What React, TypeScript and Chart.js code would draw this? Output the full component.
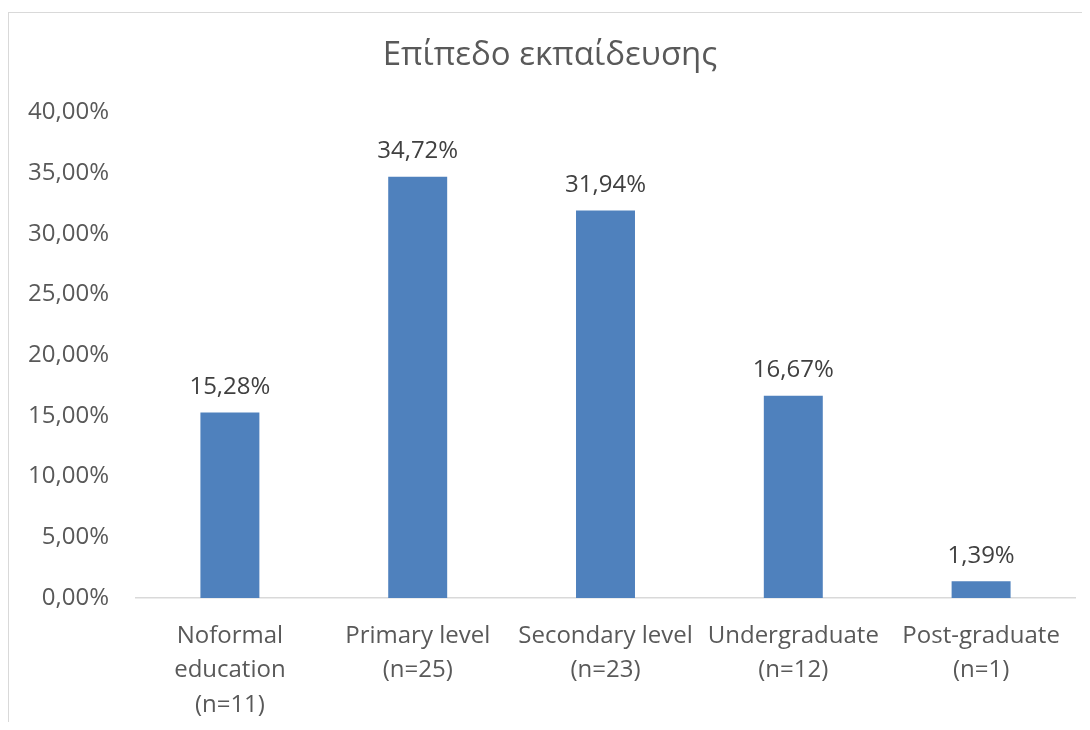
import React, { useEffect, useRef } from "react";
import { Chart, registerables } from "chart.js";

Chart.register(...registerables);

const TITLE = "Επίπεδο εκπαίδευσης";
const categories: string[][] = [
  ["Noformal", "education", "(n=11)"],
  ["Primary level", "(n=25)"],
  ["Secondary level", "(n=23)"],
  ["Undergraduate", "(n=12)"],
  ["Post-graduate", "(n=1)"],
];
const values: number[] = [15.28, 34.72, 31.94, 16.67, 1.39];
const yMin = 0;
const yMax = 40;
const yStep = 5;

const FONT = "'Open Sans', 'Noto Sans', sans-serif";
const fmt = (v: number) => v.toFixed(2).replace(".", ",") + "%";

const dataLabels = {
  id: "dataLabels",
  afterDatasetsDraw(chart: any) {
    const ctx = chart.ctx;
    const meta = chart.getDatasetMeta(0);
    ctx.save();
    ctx.font = `24px ${FONT}`;
    ctx.fillStyle = "#404040";
    ctx.textAlign = "center";
    ctx.textBaseline = "alphabetic";
    meta.data.forEach((bar: any, i: number) => {
      ctx.fillText(fmt(values[i]), bar.x, bar.y - 18.5);
    });
    ctx.restore();
  },
};

export default function App() {
  const ref = useRef<HTMLCanvasElement | null>(null);
  useEffect(() => {
    if (!ref.current) return;
    const chart = new Chart(ref.current, {
      type: "bar",
      data: {
        labels: categories,
        datasets: [
          {
            data: values,
            backgroundColor: "#4f81bd",
            borderWidth: 0,
            categoryPercentage: 1,
            barPercentage: 0.314,
          },
        ],
      },
      options: {
        responsive: false,
        animation: false,
        devicePixelRatio: 1,
        layout: { padding: { left: 16, right: 7, top: 0, bottom: 0 } },
        plugins: {
          legend: { display: false },
          tooltip: { enabled: false },
          title: {
            display: true,
            text: TITLE,
            color: "#595959",
            font: { family: FONT, size: 33, weight: "normal" as any, lineHeight: 1.2 },
            padding: { top: 23, bottom: 37 },
          },
        },
        scales: {
          x: {
            grid: { display: false, drawTicks: false },
            border: { display: true, color: "#d9d9d9", width: 1.5 },
            ticks: {
              color: "#595959",
              font: { family: FONT, size: 24, lineHeight: 1.43 },
              padding: 21,
              maxRotation: 0,
              autoSkip: false,
            },
            afterFit: (s: any) => {
              s.height = 124;
            },
          },
          y: {
            min: yMin,
            max: yMax,
            grid: { display: false, drawTicks: false },
            border: { display: false },
            ticks: {
              stepSize: yStep,
              color: "#595959",
              font: { family: FONT, size: 24 },
              padding: 27,
              callback: (v: any) => fmt(Number(v)),
            },
            afterFit: (s: any) => {
              s.width = 111;
            },
          },
        },
      },
      plugins: [dataLabels],
    });
    return () => chart.destroy();
  }, []);

  return (
    <div style={{ paddingTop: 4 }}>
      <div
        style={{
          borderTop: "1px solid #d9d9d9",
          borderLeft: "1px solid #d9d9d9",
          width: 1073,
          height: 709,
          background: "#fff",
        }}
      >
        <canvas ref={ref} width={1073} height={709} style={{ display: "block" }} />
      </div>
    </div>
  );
}
